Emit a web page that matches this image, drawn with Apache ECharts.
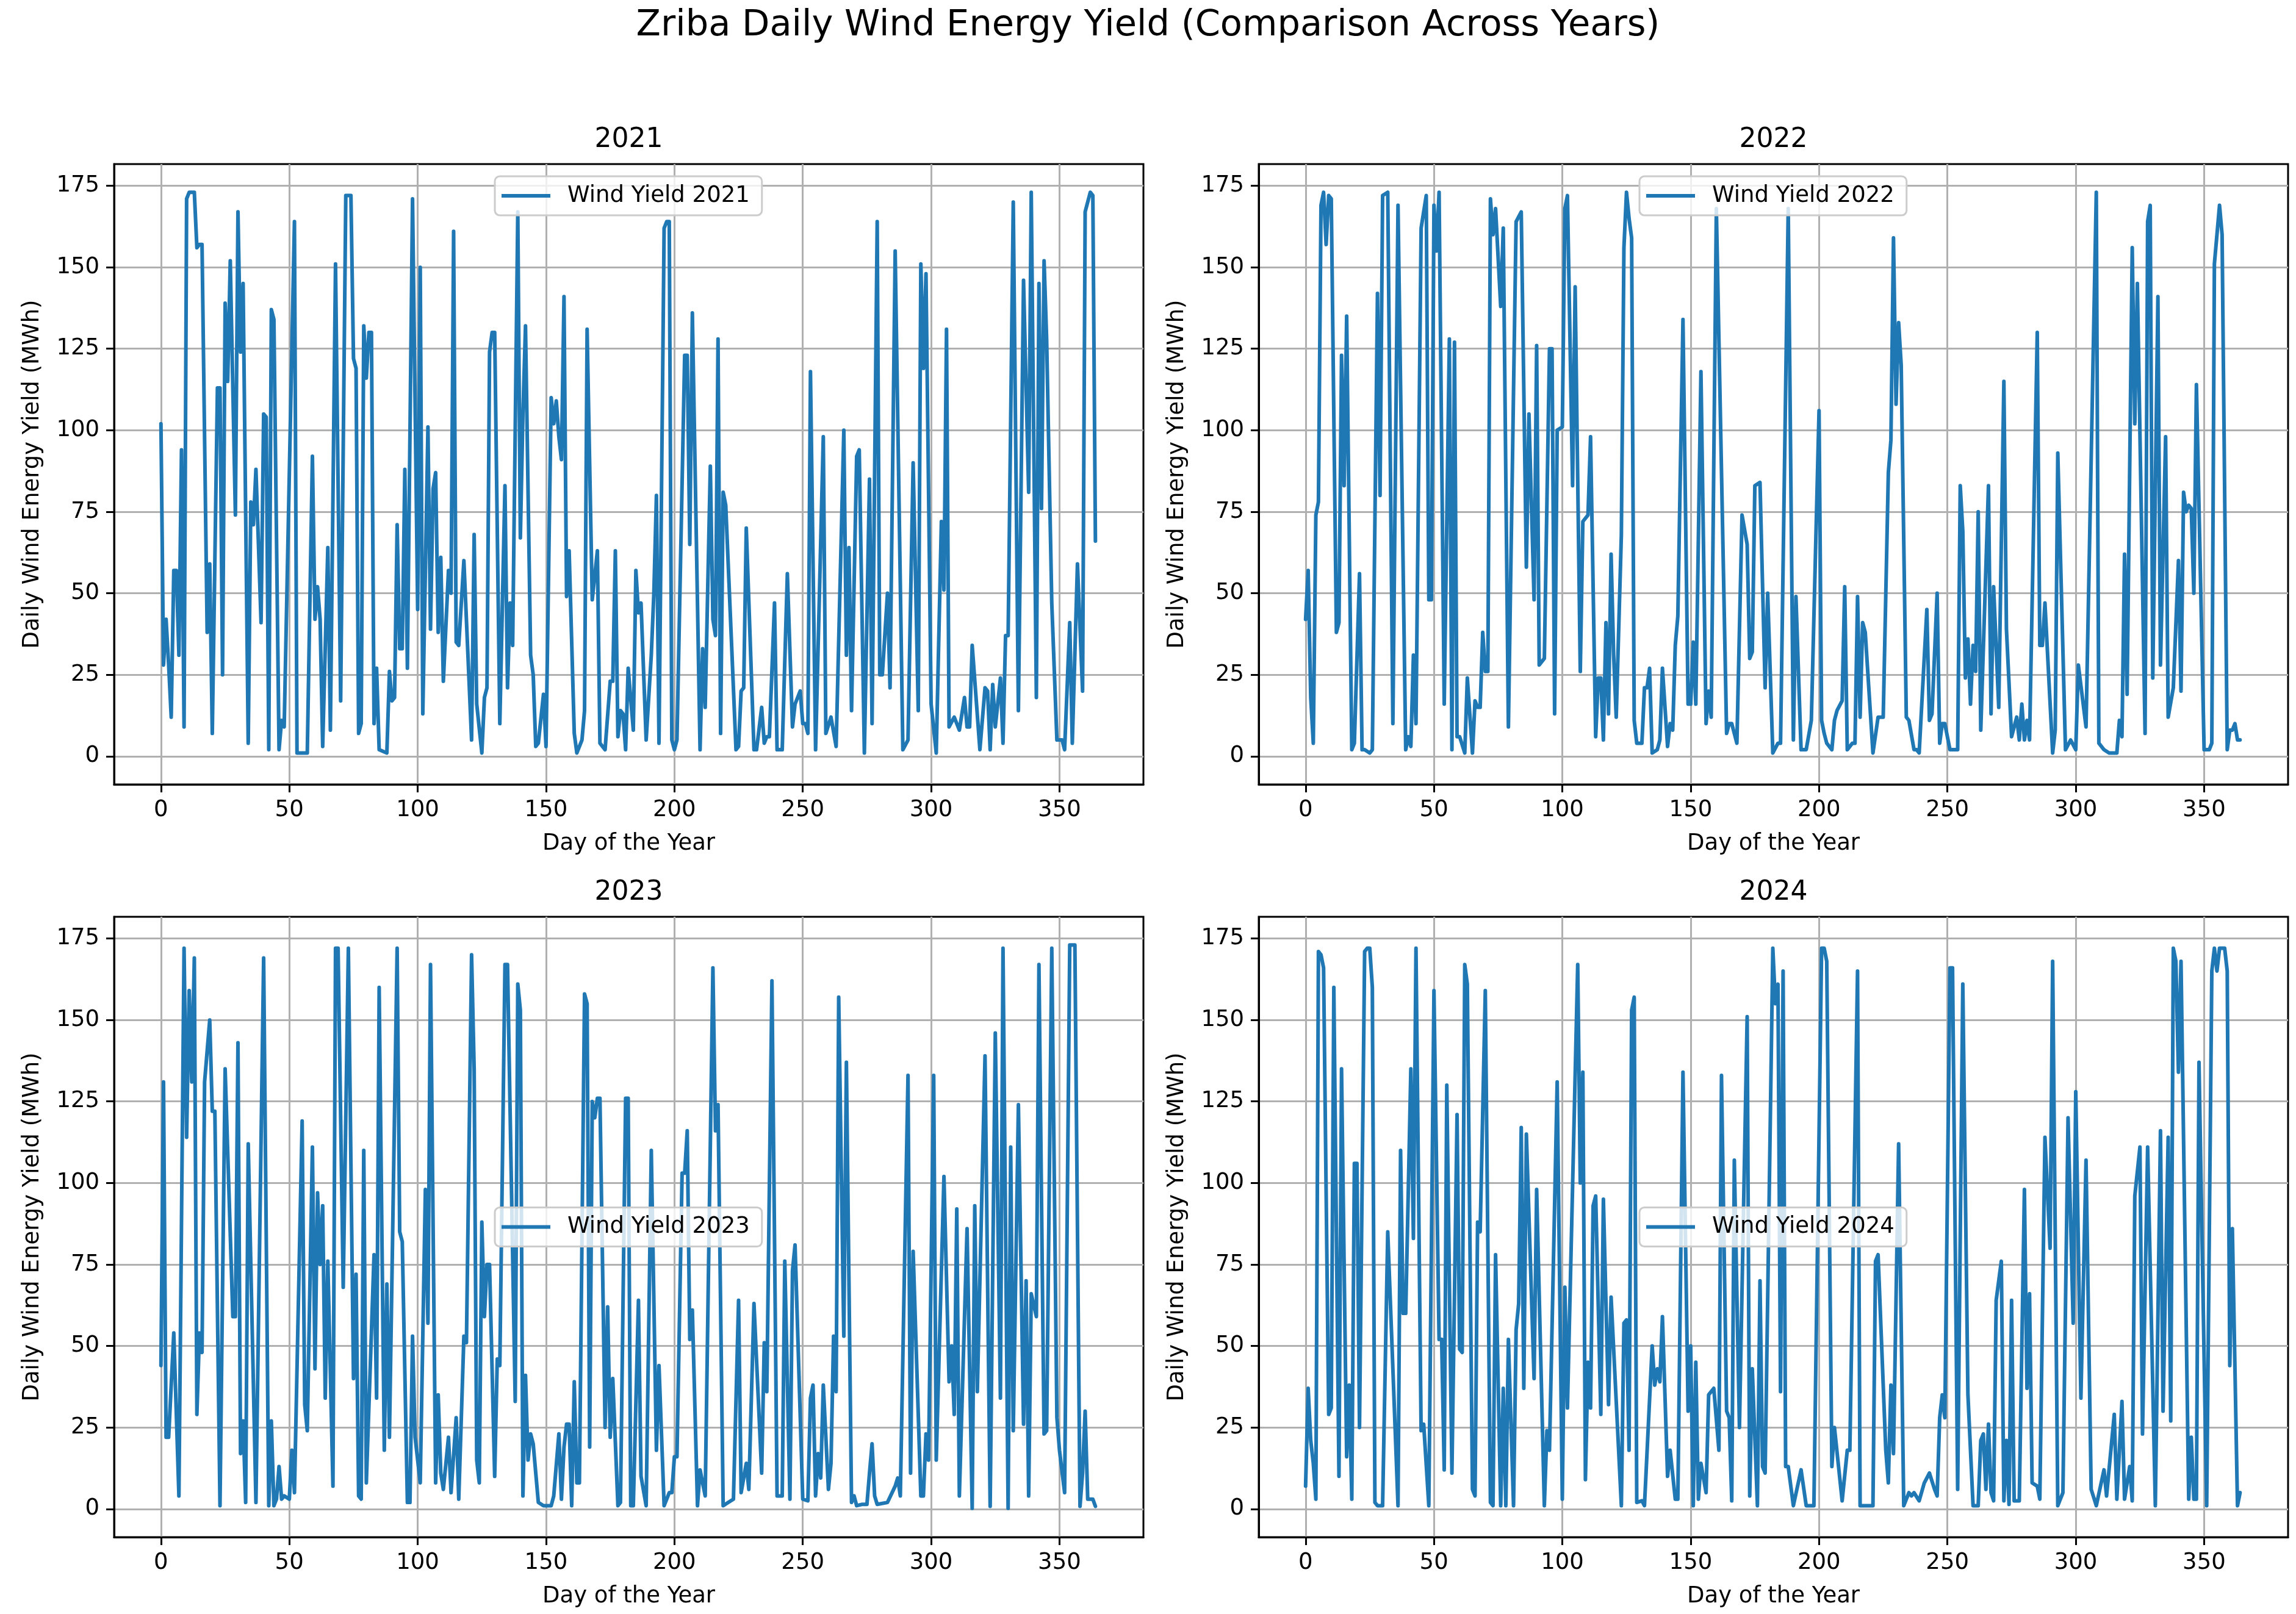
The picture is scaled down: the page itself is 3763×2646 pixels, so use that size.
<!DOCTYPE html>
<html lang="en">

<head>
    <meta charset="UTF-8">
    <title>Zriba Daily Wind Energy Yield</title>
    <style>
        html, body { margin: 0; padding: 0; background: #fff; }
        #chart { width: 3763px; height: 2646px; }
    </style>
</head>

<body>
    <div id="chart"></div>

    <script src="https://cdn.jsdelivr.net/npm/echarts@6/dist/echarts.min.js"></script>
    <script>
        // ticks shown on the axes
        var dayTicks = [0, 50, 100, 150, 200, 250, 300, 350];
        var yieldTicks = [0, 25, 50, 75, 100, 125, 150, 175];
        var years = ['2021', '2022', '2023', '2024'];

        // daily yield (MWh), day of year -> value
        var days2021 = [0, 1, 2, 3, 4, 5, 6, 7, 8, 9, 10, 11, 13, 14, 15, 16, 18, 19, 20, 22,
            23, 24, 25, 26, 27, 29, 30, 31, 32, 34, 35, 36, 37, 39, 40, 41, 42, 43, 44, 46,
            47, 48, 52, 53, 57, 59, 60, 61, 62, 63, 65, 66, 68, 70, 72, 74, 75, 76, 77, 78,
            79, 80, 81, 82, 83, 84, 85, 88, 89, 90, 91, 92, 93, 94, 95, 96, 98, 100, 101, 102,
            104, 105, 106, 107, 108, 109, 110, 112, 113, 114, 115, 116, 118, 121, 122,
            123, 125, 126, 127, 128, 129, 130, 132, 134, 135, 136, 137, 139, 140, 141, 142, 144, 145, 146, 147,
            149, 150, 152, 153, 154, 155, 156, 157, 158, 159, 161, 162, 164, 165, 166, 168, 170, 171, 173, 175,
            176, 177, 178, 179, 180, 181, 182, 184, 185, 186, 187, 189, 191, 192, 193, 194, 196, 197, 198, 199,
            200, 201, 204, 205, 206, 207, 210, 211, 212, 214, 215, 216, 217, 218, 219, 220, 224, 225, 226, 227,
            228, 231, 232, 234, 235, 236, 237, 239, 240, 242, 244,
            246, 247, 249, 250, 251, 252, 253, 255, 258, 259, 261, 263, 266, 267, 268, 269, 271, 272, 274, 276,
            277, 279, 280, 281, 283, 284, 286, 289, 291, 293, 295, 296, 297, 298, 300, 302, 304, 305, 306, 307,
            309, 311, 313, 314, 315, 316, 319, 321, 322, 323, 324, 325, 327, 328, 329, 330, 332, 334, 336, 338,
            339, 341, 342, 343, 344, 345, 347, 349, 351, 352, 354, 355, 357, 359, 360, 362, 363, 364];
        var yield2021 = [102, 28, 42, 28, 12, 57, 57, 31, 94, 9, 171, 173, 173, 156, 157, 157, 38, 59, 7, 113,
            113, 25, 139, 115, 152, 74, 167, 124, 145, 4, 78, 71, 88, 41, 105, 104, 2, 137, 134, 2,
            11, 9, 164, 1, 1, 92, 42, 52, 42, 3, 64, 8, 151, 17, 172, 172, 122, 119, 7, 10,
            132, 116, 130, 130, 10, 27, 2, 1, 26, 17, 18, 71, 33, 33, 88, 27, 171, 45, 150, 13,
            101, 39, 82, 87, 38, 61, 23, 57, 50, 161, 35, 34, 60, 5, 68,
            16, 1, 18, 21, 124, 130, 130, 10, 83, 21, 47, 34, 167, 67, 105, 132, 31, 25, 3, 4,
            19, 3, 110, 102, 109, 98, 91, 141, 49, 63, 7, 1, 5, 14, 131, 48, 63, 4, 2, 23,
            23, 63, 6, 14, 13, 2, 27, 8, 57, 44, 47, 5, 31, 50, 80, 4, 162, 164, 164, 5,
            2, 5, 123, 123, 65, 136, 2, 33, 15, 89, 42, 37, 128, 7, 81, 77, 2, 3, 20, 21,
            70, 2, 2, 15, 4, 6, 6, 47, 2, 2, 56,
            9, 16, 20, 10, 10, 7, 118, 2, 98, 7, 12, 3, 100, 31, 64, 14, 92, 94, 1, 85,
            10, 164, 25, 25, 50, 21, 155, 2, 5, 90, 14, 151, 119, 148, 16, 1, 72, 51, 131, 9,
            12, 8, 18, 9, 9, 34, 2, 21, 20, 2, 22, 9, 24, 4, 37, 37, 170, 14, 146, 81,
            173, 18, 145, 76, 152, 128, 47, 5, 5, 2, 41, 4, 59, 20, 167, 173, 172, 66];

        var days2022 = [0, 1, 2, 3, 4, 5, 6, 7, 8, 9, 10, 12, 13, 14, 15, 16, 18, 19, 21, 22,
            23, 25, 26, 28, 29, 30, 32, 34, 36, 39, 40, 41, 42, 43, 45, 47, 48, 49, 50, 51,
            52, 54, 56, 57, 58, 59, 60, 62, 63, 65, 66, 67, 68, 69, 70, 71, 72, 73, 74, 76,
            77, 79, 82, 84, 86, 87, 89, 90, 91, 93, 95, 96, 97, 98, 100, 101, 102, 104, 105, 107,
            108, 110, 111, 113, 114, 115, 116, 117, 118, 119, 120,
            121, 123, 124, 125, 126, 127, 128, 129, 131, 132, 133, 134, 135, 137, 138, 139, 141, 142, 143, 144,
            145, 147, 149, 150, 151, 152, 154, 156, 157, 158, 160, 164, 165, 166, 168, 170, 172, 173, 174, 175,
            177, 179, 180, 182, 184, 185, 188, 190, 191, 193, 195, 197, 200, 201, 202, 203, 205, 206, 207, 209,
            210, 211, 213, 214, 215, 216, 217, 218, 221, 223, 225, 227, 228, 229, 230, 231, 232, 234, 235, 237,
            238, 239, 242, 243, 244,
            246, 247, 248, 249, 251, 252, 254, 255, 256, 257, 258, 259, 260, 261, 262, 263, 266, 267, 268, 270,
            272, 273, 275, 277, 278, 279, 280, 281, 282, 285, 286, 287, 288, 291, 292, 293, 296, 298, 300, 301,
            304, 308, 309, 311, 313, 316, 317, 318, 319, 320, 322, 323, 324, 327, 328, 329, 330, 332, 333, 335,
            336, 338, 340, 341, 342, 343, 344, 345, 346, 347, 350, 352, 353, 354, 356, 357, 359, 360, 361, 362,
            363, 364];
        var yield2022 = [42, 57, 18, 4, 74, 78, 169, 173, 157, 172, 171, 38, 41, 123, 83, 135, 2, 4, 56, 2,
            2, 1, 2, 142, 80, 172, 173, 10, 169, 2, 6, 3, 31, 10, 162, 172, 48, 48, 169, 155,
            173, 16, 128, 2, 127, 6, 6, 1, 24, 1, 17, 15, 15, 38, 26, 26, 171, 160, 168, 138,
            162, 9, 164, 167, 58, 105, 48, 126, 28, 30, 125, 125, 13, 100, 101, 168, 172, 83, 144, 26,
            72, 74, 98, 6, 24, 24, 5, 41, 13, 62, 31,
            12, 68, 156, 173, 165, 159, 11, 4, 4, 21, 21, 27, 1, 2, 5, 27, 3, 10, 8, 34,
            43, 134, 16, 16, 35, 16, 118, 10, 20, 12, 168, 7, 10, 10, 4, 74, 65, 30, 32, 83,
            84, 21, 50, 1, 4, 4, 168, 5, 49, 2, 2, 11, 106, 11, 7, 4, 2, 11, 14, 17,
            52, 2, 4, 4, 49, 12, 41, 38, 1, 12, 12, 87, 97, 159, 108, 133, 120, 12, 11, 2,
            2, 1, 45, 11, 13,
            50, 4, 10, 10, 2, 2, 2, 83, 69, 24, 36, 16, 34, 26, 75, 8, 83, 13, 52, 15,
            115, 39, 6, 12, 5, 16, 5, 11, 5, 130, 34, 34, 47, 1, 8, 93, 2, 5, 2, 28,
            9, 173, 4, 2, 1, 1, 11, 6, 62, 19, 156, 102, 145, 7, 164, 169, 24, 141, 28, 98,
            12, 21, 60, 20, 81, 75, 77, 76, 50, 114, 2, 2, 4, 151, 169, 160, 2, 8, 8, 10,
            5, 5];

        var days2023 = [0, 1, 2, 3, 5, 7, 9, 10, 11, 12, 13, 14, 15, 16, 17, 19, 20, 21, 23, 25,
            28, 29, 30, 31, 32, 33, 34, 37, 40, 42, 43, 44, 45, 46, 47, 48, 50, 51, 52, 55,
            56, 57, 59, 60, 61, 62, 63, 64, 65, 67, 68, 69, 71, 73, 75, 76, 77, 78, 79, 80,
            83, 84, 85, 87, 88, 89, 92, 93, 94, 96, 97, 98, 99, 101, 103, 104, 105, 107, 108, 109,
            110, 112, 113, 115, 116, 118, 119, 121, 122,
            123, 124, 125, 126, 127, 128, 130, 131, 132, 134, 135, 138, 139, 140, 141, 142, 143, 144, 145, 147,
            149, 152, 153, 155, 156, 157, 158, 159, 160, 161, 162, 163, 165, 166, 167, 168, 169, 170, 171, 173,
            174, 175, 176, 178, 179, 181, 182, 183, 184, 186, 187, 189, 191, 193, 194, 196, 198, 199, 200, 201,
            203, 204, 205, 206, 207, 209, 210, 212, 215, 216, 217, 219, 221, 223, 225, 226, 228, 229, 231, 234,
            235, 236, 238, 240, 242, 243, 245,
            246, 247, 250, 252, 253, 254, 255, 256, 257, 258, 260, 261, 262, 263, 264, 266, 267, 269, 270, 271,
            273, 275, 276, 277, 278, 279, 283, 286, 287, 288, 291, 292, 293, 296, 297, 298, 299, 301, 302, 305,
            307, 308, 309, 310, 311, 314, 316, 317, 318, 321, 323, 325, 327, 328, 330, 331, 332, 334, 336, 337,
            338, 339, 341, 342, 344, 345, 347, 349, 350, 352, 354, 356, 358, 359, 360, 361, 363, 364];
        var yield2023 = [44, 131, 22, 22, 54, 4, 172, 114, 159, 131, 169, 29, 54, 48, 131, 150, 122, 122, 1, 135,
            59, 59, 143, 17, 27, 2, 112, 2, 169, 1, 27, 1, 3, 13, 3, 4, 3, 18, 5, 119,
            32, 24, 111, 43, 97, 75, 93, 34, 76, 7, 172, 172, 68, 172, 40, 72, 4, 3, 110, 8,
            78, 34, 160, 18, 69, 22, 172, 85, 82, 2, 2, 53, 22, 8, 98, 57, 167, 8, 35, 11,
            6, 22, 5, 28, 3, 53, 51, 170, 135,
            15, 8, 88, 59, 75, 75, 10, 46, 44, 167, 167, 33, 161, 153, 4, 41, 15, 23, 20, 2,
            1, 1, 4, 23, 3, 19, 26, 26, 1, 39, 8, 8, 158, 155, 19, 125, 120, 126, 126, 25,
            62, 22, 40, 1, 2, 126, 126, 1, 1, 64, 10, 1, 110, 18, 44, 1, 5, 5, 16, 16,
            103, 103, 116, 52, 61, 1, 12, 4, 166, 116, 124, 1, 2, 3, 64, 5, 14, 6, 63, 11,
            51, 36, 162, 4, 4, 76, 3,
            73, 81, 3, 2.5, 34, 38, 4, 17, 9.5, 38, 6, 14, 53, 36, 157, 53, 137, 2, 4, 1,
            1.4, 1.4, 11, 20, 4, 1.4, 2, 7, 9.5, 4, 133, 11, 79, 4, 4, 23, 15, 133, 15, 102,
            39, 50, 29, 92, 4, 86, 0.2, 93, 36, 139, 0.8, 146, 34, 172, 0.2, 111, 24, 124, 26, 70,
            4, 66, 59, 167, 23, 24, 172, 28, 18, 5, 173, 173, 0.8, 11, 30, 3, 3, 0.8];

        var days2024 = [0, 1, 2, 3, 4, 5, 6, 7, 9, 10, 11, 13, 14, 16, 17, 18, 19, 20, 21, 23,
            24, 25, 26, 27, 28, 30, 32, 36, 37, 38, 39, 41, 42, 43, 45, 46, 48, 50, 52, 53,
            54, 55, 57, 59, 60, 61, 62, 63, 65, 66, 67, 68, 70, 72, 73, 74, 76, 77, 78, 79,
            81, 82, 83, 84, 85, 86, 89, 90, 93, 94, 95, 98, 100, 101, 102, 106, 107, 108, 109, 110,
            111, 112, 113, 115, 116, 118, 119,
            123, 124, 125, 126, 127, 128, 129, 131, 132, 135, 136, 137, 138, 139, 141, 142, 144, 145, 147, 149,
            150, 151, 152, 153, 154, 156, 157, 159, 161, 162, 164, 165, 166, 167, 169, 172, 173, 174, 176, 177,
            178, 179, 182, 183, 184, 185, 186, 187, 188, 190, 193, 195, 198, 201, 202, 203, 205, 206, 209, 211,
            212, 215, 216, 218, 221, 222, 223, 226, 227, 228, 229, 231, 233, 235, 236, 237, 239, 241, 243, 245,
            246,
            247, 248, 249, 251, 252, 254, 256, 258, 260, 262, 263, 264, 265, 266, 267, 268, 269, 271, 272, 273,
            274, 275, 276, 278, 280, 281, 282, 283, 285, 286, 288, 290, 291, 293, 295, 297, 299, 300, 302, 304,
            306, 308, 311, 312, 315, 316, 318, 319, 321, 322, 323, 325, 326, 328, 331, 333, 334, 336, 337, 338,
            339, 340, 341, 344, 345, 346, 347, 348, 351, 353, 354, 355, 356, 358, 359, 360, 361, 363, 364];
        var yield2024 = [7, 37, 21, 14, 3, 171, 170, 166, 29, 31, 160, 10, 135, 16, 38, 3, 106, 106, 25, 171,
            172, 172, 160, 2, 1, 1, 85, 1, 110, 60, 60, 135, 83, 172, 24, 26, 1, 159, 52, 52,
            12, 130, 11, 121, 49, 48, 167, 161, 6, 4, 88, 85, 159, 2, 1, 78, 1, 37, 1, 52,
            1, 55, 63, 117, 37, 115, 40, 98, 1, 24, 18, 131, 3, 68, 31, 167, 100, 134, 9, 45,
            31, 93, 96, 29, 95, 32, 65,
            1, 57, 58, 18, 153, 157, 2, 2.5, 1, 50, 38, 43, 39, 59, 10, 18, 3, 3, 134, 30,
            50, 1, 45, 3, 14, 5, 35, 37, 18, 133, 30, 28, 2.5, 107, 25, 151, 4, 43, 1, 70,
            13, 11, 172, 155, 161, 36, 165, 13, 13, 1, 12, 1, 1, 172, 172, 168, 13, 25, 2.5, 18,
            18, 165, 1, 1, 1, 76, 78, 18, 8, 38, 17, 112, 1, 5, 4, 5, 2.5, 8, 11, 6,
            4,
            28, 35, 28, 166, 166, 6, 161, 35, 1, 1, 21, 23, 6, 26, 5, 2.5, 64, 76, 2.5, 21,
            1.4, 64, 2.5, 2.5, 98, 37, 66, 8, 7, 3, 114, 80, 168, 1, 5, 120, 57, 128, 34, 107,
            6, 1, 12, 4, 29, 3, 33, 3, 13, 2.5, 96, 111, 23, 111, 1, 116, 30, 114, 27, 172,
            168, 134, 168, 3, 22, 3, 3, 137, 1, 165, 172, 165, 172, 172, 165, 44, 86, 1, 5];

        (function initChart() {
            var chart = echarts.init(document.getElementById('chart'), null, { renderer: 'canvas' });

            var font = 'DejaVu Sans';
            var blue = '#1f77b4';
            var days = [days2021, days2022, days2023, days2024];
            var vals = [yield2021, yield2022, yield2023, yield2024];

            // axes boxes in px: [left, top]
            var boxes = [[187, 269], [2063, 269], [187, 1503], [2063, 1503]];
            var boxW = 1687, boxH = 1017;

            var grids = [], xAxes = [], yAxes = [], series = [], legends = [], graphics = [];

            graphics.push({
                type: 'text', x: 1881.5, y: 43,
                style: { text: 'Zriba Daily Wind Energy Yield (Comparison Across Years)', font: '59px "DejaVu Sans"', fill: '#000', align: 'center', verticalAlign: 'middle' }
            });

            for (var i = 0; i < 4; i++) {
                var b = boxes[i];
                var cx = b[0] + boxW / 2;
                var cy = b[1] + boxH / 2;
                var name = 'Wind Yield ' + years[i];

                grids.push({
                    left: b[0], top: b[1], width: boxW, height: boxH,
                    show: true, borderColor: '#000', borderWidth: 3, backgroundColor: '#fff',
                    containLabel: false
                });

                xAxes.push({
                    gridIndex: i, type: 'value', min: -18.25, max: 382.7,
                    axisLine: { show: true, onZero: false, lineStyle: { color: '#000', width: 3 } },
                    axisTick: { show: true, length: 13, customValues: dayTicks, lineStyle: { color: '#000', width: 3 } },
                    axisLabel: { customValues: dayTicks, margin: 24, fontFamily: font, fontSize: 37, color: '#000' },
                    splitLine: { show: true, lineStyle: { color: '#b0b0b0', width: 3 } }
                });

                yAxes.push({
                    gridIndex: i, type: 'value', min: -8.65, max: 181.65,
                    axisLine: { show: true, onZero: false, lineStyle: { color: '#000', width: 3 } },
                    axisTick: { show: true, length: 13, customValues: yieldTicks, lineStyle: { color: '#000', width: 3 } },
                    axisLabel: { customValues: yieldTicks, margin: 24, fontFamily: font, fontSize: 37, color: '#000' },
                    splitLine: { show: true, lineStyle: { color: '#b0b0b0', width: 3 } }
                });

                var pts = [];
                for (var k = 0; k < days[i].length; k++) {
                    pts.push([days[i][k], vals[i][k]]);
                }

                series.push({
                    name: name, type: 'line', xAxisIndex: i, yAxisIndex: i,
                    data: pts, showSymbol: false, symbol: 'none', silent: true,
                    itemStyle: { color: blue },
                    lineStyle: { color: blue, width: 6, join: 'round', cap: 'round' }
                });

                // top panels: upper center, bottom panels: center
                var legTop = i < 2 ? b[1] + 20 : cy - 32;
                legends.push({
                    data: [name], left: cx - 219.5, top: legTop,
                    selectedMode: false, icon: 'rect', itemWidth: 80, itemHeight: 6,
                    padding: [10, 20, 10, 11],
                    backgroundColor: 'rgba(255,255,255,0.8)', borderColor: '#cccccc', borderWidth: 3, borderRadius: 8,
                    textStyle: { fontFamily: font, fontSize: 37, color: '#000', lineHeight: 44, padding: [0, 0, 0, 23] }
                });

                graphics.push({
                    type: 'text', x: cx, y: b[1] - 39,
                    style: { text: years[i], font: '44px "DejaVu Sans"', fill: '#000', align: 'center', verticalAlign: 'middle' }
                });
                graphics.push({
                    type: 'text', x: cx, y: b[1] + boxH + 97,
                    style: { text: 'Day of the Year', font: '37px "DejaVu Sans"', fill: '#000', align: 'center', verticalAlign: 'middle' }
                });
                graphics.push({
                    type: 'text', x: b[0] - 134, y: cy, rotation: Math.PI / 2,
                    style: { text: 'Daily Wind Energy Yield (MWh)', font: '37px "DejaVu Sans"', fill: '#000', align: 'center', verticalAlign: 'middle' }
                });
            }

            var options = {
                animation: false,
                backgroundColor: '#fff',
                textStyle: { fontFamily: font },
                grid: grids,
                xAxis: xAxes,
                yAxis: yAxes,
                legend: legends,
                series: series,
                graphic: graphics
            };

            chart.setOption(options, true);
        })();
    </script>
</body>

</html>
